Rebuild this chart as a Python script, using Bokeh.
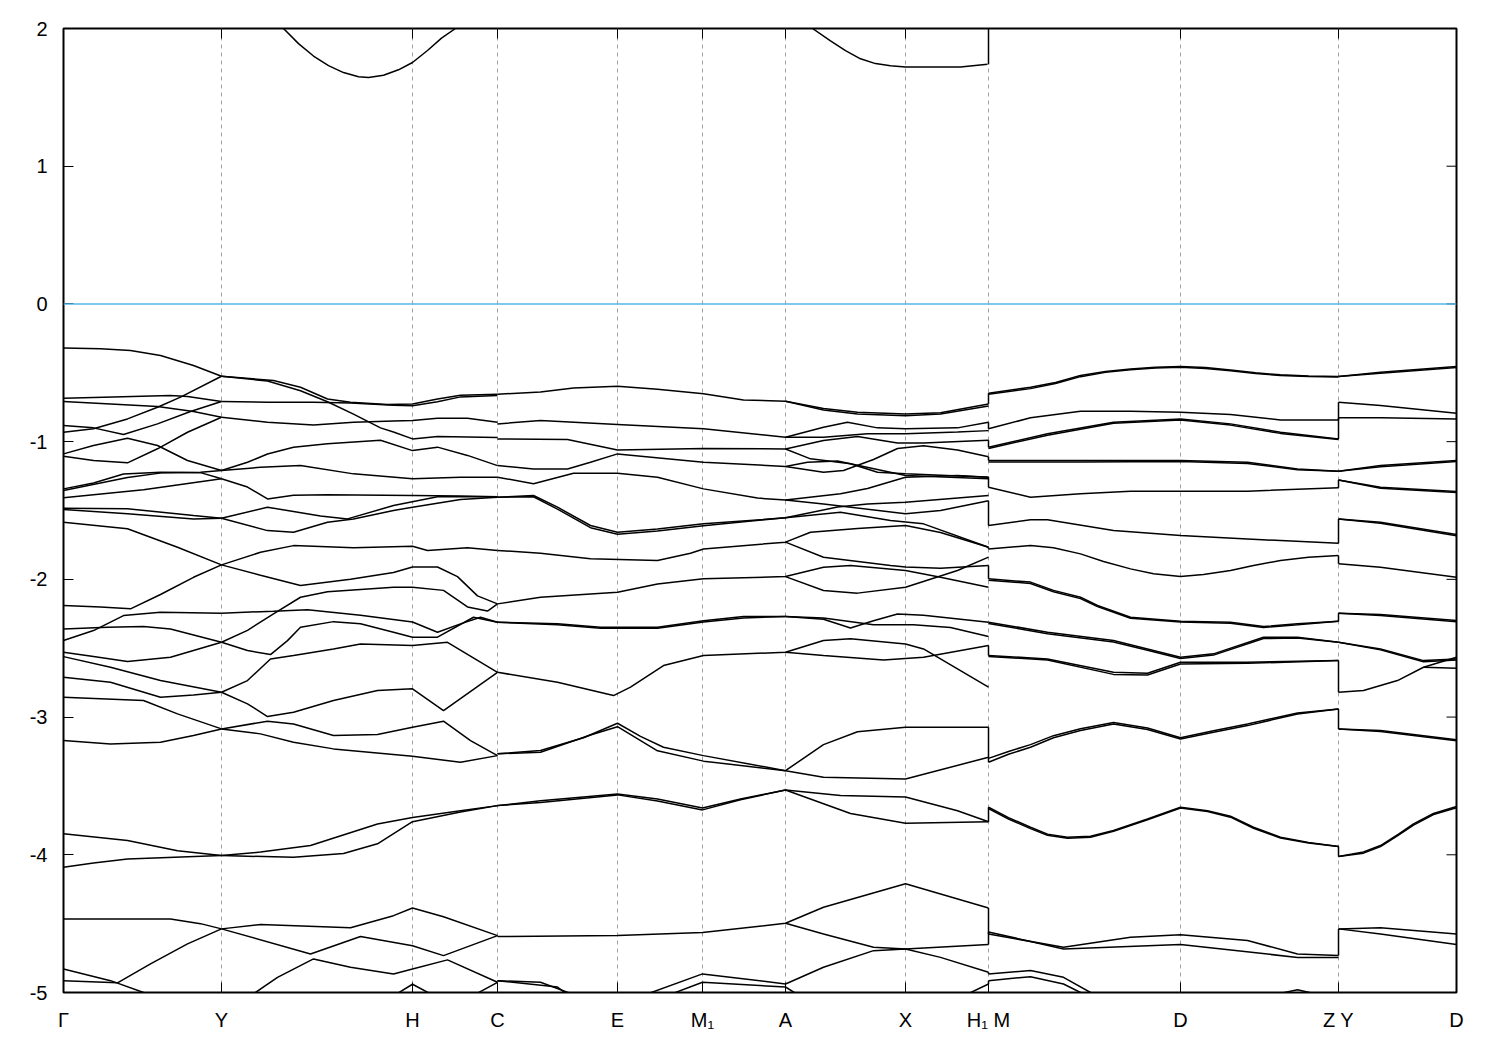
from bokeh.plotting import figure
from bokeh.models import FixedTicker, Span, Range1d
from bokeh.embed import file_html
from bokeh.resources import INLINE

# high-symmetry points along the k-path (path distance, arbitrary units)
K_TICKS = [0, 158, 349, 434, 554, 639, 722, 842, 925, 1117, 1275, 1393]
K_LABELS = ["Γ", "Y", "H", "C", "E", "M₁", "A", "X", "H₁ M", "D", "Z Y", "D"]
E_TICKS = [-5, -4, -3, -2, -1, 0, 1, 2]
E_LABELS = ["-5", "-4", "-3", "-2", "-1", "0", "1", "2"]

# conduction bands (k, E)
COND_BANDS = [
    [(215, 2.04), (220, 2.0), (235, 1.89), (250, 1.80), (265, 1.73), (280, 1.68), (295, 1.65), (305, 1.644),
     (320, 1.66), (335, 1.70), (349, 1.753), (364, 1.84), (378, 1.93), (392, 2.0), (397, 2.04)],
    [(745, 2.04), (749, 2.0), (767, 1.91), (782, 1.84), (797, 1.78), (812, 1.745), (827, 1.73),
     (842, 1.72), (897, 1.72), (924, 1.74)],
]

# Gamma -> Y
BANDS_GY = [
    [(0, -0.32), (37, -0.326), (67, -0.338), (97, -0.375), (130, -0.447), (158, -0.525)],
    [(0, -0.932), (30, -0.907), (64, -0.835), (94, -0.75), (117, -0.677), (158, -0.525)],
    [(0, -0.685), (40, -0.677), (107, -0.665), (124, -0.672), (158, -0.709)],
    [(0, -0.709), (47, -0.726), (94, -0.745), (130, -0.781), (158, -0.823)],
    [(0, -0.883), (30, -0.90), (60, -0.948), (94, -0.871), (127, -0.781), (158, -0.709)],
    [(0, -1.089), (30, -1.028), (64, -0.975), (94, -1.028), (124, -1.137), (158, -1.21)],
    [(0, -1.106), (30, -1.137), (64, -1.154), (94, -1.052), (124, -0.932), (158, -0.823)],
    [(0, -1.343), (30, -1.30), (60, -1.235), (97, -1.222), (137, -1.225), (158, -1.27)],
    [(0, -1.355), (64, -1.26), (100, -1.225), (137, -1.222), (158, -1.21)],
    [(0, -1.408), (80, -1.35), (158, -1.27)],
    [(0, -1.483), (64, -1.488), (130, -1.537), (158, -1.556)],
    [(0, -1.493), (64, -1.524), (130, -1.561), (158, -1.556)],
    [(0, -1.585), (64, -1.633), (114, -1.767), (158, -1.895)],
    [(0, -2.19), (37, -2.20), (67, -2.214), (97, -2.11), (130, -1.985), (158, -1.895)],
    [(0, -2.36), (44, -2.348), (80, -2.343), (107, -2.36), (158, -2.457)],
    [(0, -2.444), (30, -2.372), (60, -2.263), (97, -2.239), (158, -2.246)],
    [(0, -2.529), (30, -2.56), (64, -2.597), (107, -2.566), (158, -2.457)],
    [(0, -2.561), (47, -2.638), (97, -2.735), (158, -2.82)],
    [(0, -2.711), (47, -2.747), (97, -2.856), (130, -2.84), (158, -2.82)],
    [(0, -2.856), (80, -2.88), (114, -2.977), (158, -3.086)],
    [(0, -3.171), (47, -3.195), (97, -3.183), (130, -3.134), (158, -3.086)],
    [(0, -3.848), (64, -3.897), (114, -3.97), (158, -4.006)],
    [(0, -4.091), (30, -4.06), (64, -4.03), (158, -4.006)],
    [(0, -4.466), (37, -4.466), (107, -4.466), (137, -4.50), (158, -4.538)],
    [(0, -4.829), (47, -4.914), (80, -5.0), (95, -5.06)],
    [(0, -4.914), (54, -4.93), (87, -4.792), (124, -4.647), (158, -4.538)],
]

# Y -> H -> C
BANDS_YC = [
    [(158, -0.525), (210, -0.556), (237, -0.605), (264, -0.69), (287, -0.714), (324, -0.73), (349, -0.726),
     (374, -0.69), (397, -0.663), (434, -0.655)],
    [(158, -0.525), (204, -0.56), (237, -0.63), (264, -0.71), (290, -0.80), (317, -0.90), (330, -0.93),
     (349, -0.98), (374, -0.963), (434, -0.97)],
    [(158, -0.709), (204, -0.714), (250, -0.714), (287, -0.72), (330, -0.735), (349, -0.74), (374, -0.71),
     (397, -0.675), (434, -0.665)],
    [(158, -0.823), (204, -0.86), (250, -0.88), (290, -0.86), (330, -0.85), (349, -0.847), (374, -0.83),
     (404, -0.83), (434, -0.859)],
    [(158, -1.21), (184, -1.15), (204, -1.09), (230, -1.04), (264, -1.016), (317, -0.99), (349, -1.065),
     (374, -1.04), (404, -1.10), (434, -1.174)],
    [(158, -1.21), (197, -1.186), (237, -1.174), (290, -1.234), (349, -1.27), (397, -1.258), (434, -1.258)],
    [(158, -1.27), (184, -1.33), (204, -1.416), (230, -1.39), (264, -1.385), (349, -1.391), (397, -1.395),
     (434, -1.40)],
    [(158, -1.556), (204, -1.476), (257, -1.54), (284, -1.561), (330, -1.464), (374, -1.40), (434, -1.40)],
    [(158, -1.556), (204, -1.646), (230, -1.658), (264, -1.585), (290, -1.561), (330, -1.50), (349, -1.476),
     (397, -1.42), (434, -1.404)],
    [(158, -1.895), (197, -1.803), (230, -1.755), (290, -1.77), (349, -1.76), (364, -1.79), (404, -1.77),
     (434, -1.79)],
    [(158, -1.895), (197, -1.97), (237, -2.045), (287, -2.0), (330, -1.95), (349, -1.91), (374, -1.91),
     (394, -1.98), (414, -2.12), (434, -2.178)],
    [(158, -2.457), (184, -2.37), (210, -2.25), (237, -2.13), (264, -2.09), (330, -2.057), (349, -2.057),
     (380, -2.08), (404, -2.20), (424, -2.23), (434, -2.178)],
    [(158, -2.246), (210, -2.231), (244, -2.22), (297, -2.26), (349, -2.31), (374, -2.384), (397, -2.323),
     (417, -2.275), (434, -2.311)],
    [(158, -2.457), (184, -2.517), (207, -2.546), (224, -2.445), (237, -2.348), (270, -2.307), (297, -2.323),
     (330, -2.384), (349, -2.42), (374, -2.42), (410, -2.275), (434, -2.311)],
    [(158, -2.82), (184, -2.735), (207, -2.578), (230, -2.553), (270, -2.505), (297, -2.469), (349, -2.481),
     (384, -2.457), (434, -2.675)],
    [(158, -2.82), (184, -2.904), (204, -2.996), (230, -2.965), (270, -2.88), (314, -2.807), (349, -2.795),
     (380, -2.953), (434, -2.675)],
    [(158, -3.086), (204, -3.03), (230, -3.05), (270, -3.134), (314, -3.127), (349, -3.074), (380, -3.03),
     (407, -3.171), (434, -3.28)],
    [(158, -3.086), (197, -3.122), (230, -3.183), (270, -3.231), (349, -3.285), (397, -3.328), (434, -3.28)],
    [(158, -4.006), (230, -4.018), (280, -3.99), (314, -3.92), (349, -3.76), (397, -3.69), (434, -3.643)],
    [(158, -4.006), (197, -3.98), (247, -3.933), (314, -3.776), (349, -3.73), (397, -3.68), (434, -3.643)],
    [(158, -4.538), (197, -4.507), (287, -4.53), (330, -4.442), (349, -4.386), (380, -4.45), (434, -4.587)],
    [(158, -4.538), (247, -4.72), (297, -4.593), (349, -4.66), (380, -4.732), (434, -4.587)],
    [(180, -5.06), (214, -4.89), (250, -4.756), (287, -4.817), (330, -4.865), (349, -4.829), (384, -4.763),
     (434, -4.926)],
    [(322, -5.06), (349, -4.94), (380, -5.06)],
    [(400, -5.06), (434, -4.926)],
]

# C -> E -> M1 -> A -> X -> H1
BANDS_CH = [
    [(434, -0.655), (477, -0.64), (510, -0.61), (554, -0.598), (594, -0.62), (640, -0.653), (680, -0.697),
     (722, -0.706), (760, -0.76), (794, -0.786), (842, -0.80), (877, -0.79), (925, -0.726)],
    [(722, -0.706), (760, -0.77), (794, -0.80), (842, -0.812), (877, -0.80), (925, -0.742)],
    [(434, -0.871), (477, -0.847), (554, -0.876), (640, -0.907), (722, -0.968), (760, -0.895), (784, -0.859),
     (814, -0.90), (842, -0.907), (894, -0.90), (925, -0.86)],
    [(722, -0.968), (760, -0.968), (804, -0.943), (842, -0.943), (894, -0.93), (925, -0.92)],
    [(434, -0.98), (504, -0.985), (554, -1.06), (640, -1.05), (722, -1.053), (747, -1.125), (787, -1.16),
     (814, -1.222), (842, -1.234), (925, -1.258)],
    [(722, -1.053), (760, -0.992), (794, -0.963), (834, -1.01), (860, -1.01), (925, -0.99)],
    [(434, -1.174), (470, -1.198), (504, -1.198), (527, -1.15), (554, -1.089), (640, -1.15), (722, -1.18),
     (744, -1.15), (774, -1.14), (787, -1.16), (842, -1.246), (925, -1.27)],
    [(722, -1.18), (760, -1.222), (780, -1.21), (810, -1.13), (834, -1.05), (860, -1.03), (894, -1.06),
     (925, -1.11)],
    [(434, -1.258), (470, -1.306), (510, -1.229), (554, -1.229), (594, -1.258), (640, -1.343), (694, -1.41),
     (722, -1.423), (777, -1.379), (804, -1.34), (842, -1.258), (894, -1.245), (925, -1.258)],
    [(722, -1.423), (760, -1.452), (842, -1.524), (877, -1.50), (925, -1.43)],
    [(434, -1.404), (470, -1.391), (494, -1.476), (527, -1.609), (554, -1.658), (594, -1.634), (640, -1.597),
     (722, -1.553), (774, -1.475), (804, -1.452), (842, -1.44), (925, -1.391)],
    [(434, -1.404), (470, -1.40), (494, -1.49), (527, -1.625), (554, -1.672), (594, -1.648), (640, -1.61),
     (722, -1.553)],
    [(722, -1.553), (777, -1.513), (827, -1.573), (860, -1.597), (925, -1.767)],
    [(434, -1.79), (477, -1.81), (527, -1.851), (594, -1.863), (627, -1.81), (640, -1.779), (722, -1.73),
     (747, -1.658), (794, -1.63), (842, -1.609), (877, -1.66), (925, -1.767)],
    [(722, -1.73), (760, -1.839), (827, -1.90), (842, -1.91), (877, -1.92), (925, -1.90)],
    [(434, -2.178), (477, -2.13), (554, -2.094), (594, -2.033), (640, -1.996), (722, -1.98), (760, -1.912),
     (787, -1.90), (842, -1.936), (877, -1.985), (925, -2.057)],
    [(722, -1.98), (760, -2.081), (794, -2.10), (842, -2.057), (894, -1.936), (925, -1.839)],
    [(434, -2.311), (494, -2.323), (537, -2.348), (594, -2.348), (640, -2.30), (680, -2.27), (722, -2.27),
     (760, -2.29), (787, -2.353), (810, -2.30), (834, -2.251), (860, -2.26), (925, -2.311)],
    [(434, -2.311), (494, -2.33), (537, -2.355), (594, -2.355), (640, -2.31), (680, -2.28), (722, -2.27)],
    [(722, -2.27), (760, -2.28), (810, -2.33), (850, -2.33), (887, -2.35), (925, -2.415)],
    [(434, -2.675), (494, -2.747), (550, -2.844), (567, -2.783), (600, -2.626), (640, -2.553), (722, -2.529),
     (760, -2.444), (787, -2.432), (842, -2.469), (860, -2.505), (925, -2.783)],
    [(722, -2.529), (760, -2.553), (820, -2.585), (860, -2.566), (925, -2.481)],
    [(434, -3.267), (477, -3.243), (520, -3.15), (554, -3.045), (577, -3.14), (600, -3.219), (640, -3.28),
     (722, -3.389), (760, -3.2), (794, -3.107), (842, -3.074), (925, -3.074)],
    [(434, -3.267), (477, -3.255), (527, -3.13), (554, -3.07), (594, -3.245), (640, -3.32), (722, -3.389)],
    [(722, -3.389), (760, -3.437), (842, -3.449), (925, -3.292)],
    [(434, -3.643), (477, -3.607), (554, -3.558), (594, -3.595), (639, -3.66), (677, -3.595), (722, -3.53),
     (777, -3.57), (842, -3.58), (894, -3.68), (925, -3.76)],
    [(434, -3.643), (477, -3.62), (554, -3.565), (594, -3.61), (639, -3.674), (677, -3.60), (722, -3.53)],
    [(722, -3.53), (787, -3.70), (842, -3.771), (925, -3.76)],
    [(434, -4.594), (554, -4.587), (639, -4.565), (722, -4.497), (760, -4.381), (842, -4.211), (925, -4.386)],
    [(722, -4.497), (760, -4.575), (810, -4.672), (842, -4.684), (925, -4.652)],
    [(722, -4.938), (760, -4.817), (810, -4.696), (842, -4.684), (877, -4.745), (925, -4.853)],
    [(434, -4.914), (477, -4.926), (527, -5.06)],
    [(434, -4.914), (494, -4.96), (512, -5.06)],
    [(565, -5.06), (639, -4.865), (722, -4.938)],
    [(590, -5.06), (639, -4.926), (722, -4.96), (744, -5.06)],
    [(890, -5.06), (925, -4.938)],
]

# M -> D -> Z
BANDS_MZ = [
    [(925, -0.648), (967, -0.605), (992, -0.57), (1017, -0.52), (1042, -0.49), (1067, -0.472), (1092, -0.46),
     (1117, -0.455), (1142, -0.462), (1167, -0.479), (1192, -0.50), (1217, -0.515), (1245, -0.523), (1275, -0.527)],
    [(925, -0.655), (967, -0.615), (992, -0.578), (1017, -0.528), (1042, -0.497), (1067, -0.478), (1092, -0.466),
     (1117, -0.46), (1142, -0.468), (1167, -0.485), (1192, -0.505), (1217, -0.52), (1245, -0.527), (1275, -0.53)],
    [(925, -0.907), (967, -0.827), (1017, -0.779), (1067, -0.779), (1117, -0.786), (1167, -0.803),
     (1217, -0.842), (1275, -0.842)],
    [(925, -1.04), (984, -0.943), (1050, -0.859), (1117, -0.835), (1167, -0.871), (1217, -0.932), (1275, -0.98)],
    [(925, -1.05), (984, -0.953), (1050, -0.867), (1117, -0.842), (1167, -0.88), (1217, -0.94), (1275, -0.985)],
    [(925, -1.137), (1017, -1.137), (1117, -1.137), (1184, -1.15), (1234, -1.198), (1275, -1.215)],
    [(925, -1.147), (1017, -1.147), (1117, -1.145), (1184, -1.158), (1234, -1.205), (1275, -1.215)],
    [(925, -1.331), (967, -1.404), (1017, -1.379), (1067, -1.36), (1117, -1.36), (1184, -1.36), (1275, -1.335)],
    [(925, -1.609), (967, -1.568), (984, -1.568), (1050, -1.646), (1117, -1.682), (1184, -1.707), (1275, -1.738)],
    [(925, -1.779), (967, -1.755), (990, -1.77), (1017, -1.815), (1040, -1.87), (1067, -1.924), (1090, -1.96),
     (1117, -1.98), (1140, -1.965), (1167, -1.936), (1190, -1.90), (1217, -1.863), (1245, -1.84), (1275, -1.827)],
    [(925, -1.996), (967, -2.02), (990, -2.08), (1017, -2.13), (1034, -2.19), (1067, -2.275), (1117, -2.304),
     (1167, -2.311), (1200, -2.343), (1234, -2.323), (1275, -2.304)],
    [(925, -2.006), (967, -2.03), (990, -2.09), (1017, -2.14), (1034, -2.198), (1067, -2.282), (1117, -2.31),
     (1167, -2.318), (1200, -2.35), (1234, -2.33), (1275, -2.304)],
    [(925, -2.311), (984, -2.384), (1050, -2.444), (1084, -2.505), (1117, -2.566), (1150, -2.541),
     (1200, -2.42), (1234, -2.42), (1275, -2.457)],
    [(925, -2.32), (984, -2.395), (1050, -2.455), (1084, -2.515), (1117, -2.575), (1150, -2.55),
     (1200, -2.43), (1234, -2.425), (1275, -2.457)],
    [(925, -2.553), (984, -2.578), (1050, -2.675), (1084, -2.682), (1117, -2.602), (1184, -2.602), (1275, -2.59)],
    [(925, -2.56), (984, -2.585), (1050, -2.69), (1084, -2.695), (1117, -2.615), (1184, -2.61), (1275, -2.59)],
    [(925, -3.328), (945, -3.27), (967, -3.219), (990, -3.15), (1017, -3.098), (1050, -3.05), (1084, -3.09),
     (1117, -3.159), (1150, -3.11), (1184, -3.062), (1234, -2.977), (1275, -2.941)],
    [(925, -3.30), (945, -3.25), (967, -3.20), (990, -3.135), (1017, -3.085), (1050, -3.04), (1084, -3.08),
     (1117, -3.15), (1150, -3.10), (1184, -3.05), (1234, -2.97), (1275, -2.941)],
    [(925, -3.655), (945, -3.73), (967, -3.80), (984, -3.85), (1004, -3.873), (1027, -3.865), (1050, -3.824),
     (1084, -3.74), (1117, -3.655), (1144, -3.68), (1167, -3.72), (1190, -3.80), (1217, -3.873), (1245, -3.91),
     (1275, -3.94)],
    [(925, -3.665), (945, -3.74), (967, -3.81), (984, -3.858), (1004, -3.88), (1027, -3.872), (1050, -3.83),
     (1084, -3.745), (1117, -3.66), (1144, -3.686), (1167, -3.727), (1190, -3.807), (1217, -3.878),
     (1245, -3.915), (1275, -3.94)],
    [(925, -4.575), (1000, -4.672), (1067, -4.599), (1117, -4.58), (1184, -4.623), (1234, -4.72), (1275, -4.732)],
    [(925, -4.56), (1000, -4.684), (1117, -4.652), (1234, -4.745), (1275, -4.745)],
    [(925, -4.865), (967, -4.841), (1000, -4.89), (1027, -5.0), (1035, -5.06)],
    [(925, -4.914), (967, -4.885), (1000, -4.938), (1017, -5.0), (1025, -5.06)],
    [(1195, -5.04), (1234, -4.98), (1270, -5.04)],
]

# Y -> D
BANDS_YD = [
    [(1275, -0.527), (1317, -0.496), (1393, -0.455)],
    [(1275, -0.527), (1317, -0.503), (1393, -0.462)],
    [(1275, -0.714), (1317, -0.738), (1393, -0.793)],
    [(1275, -0.827), (1317, -0.827), (1393, -0.835)],
    [(1275, -1.215), (1317, -1.174), (1393, -1.137)],
    [(1275, -1.215), (1317, -1.182), (1393, -1.145)],
    [(1275, -1.278), (1317, -1.331), (1393, -1.362)],
    [(1275, -1.278), (1317, -1.338), (1393, -1.37)],
    [(1275, -1.561), (1317, -1.585), (1393, -1.675)],
    [(1275, -1.561), (1317, -1.592), (1393, -1.683)],
    [(1275, -1.887), (1317, -1.912), (1393, -1.985)],
    [(1275, -2.246), (1317, -2.255), (1393, -2.299)],
    [(1275, -2.246), (1317, -2.262), (1393, -2.307)],
    [(1275, -2.457), (1317, -2.505), (1360, -2.59), (1393, -2.578)],
    [(1275, -2.457), (1317, -2.512), (1360, -2.598), (1393, -2.585)],
    [(1275, -2.82), (1300, -2.807), (1334, -2.735), (1360, -2.638), (1393, -2.566)],
    [(1360, -2.638), (1393, -2.645)],
    [(1275, -3.086), (1317, -3.098), (1393, -3.165)],
    [(1275, -3.086), (1317, -3.105), (1393, -3.172)],
    [(1275, -4.013), (1300, -3.98), (1317, -3.933), (1335, -3.85), (1350, -3.776), (1370, -3.70), (1393, -3.65)],
    [(1275, -4.013), (1300, -3.988), (1317, -3.941), (1335, -3.858), (1350, -3.785), (1370, -3.708),
     (1393, -3.658)],
    [(1275, -4.538), (1317, -4.53), (1393, -4.575)],
    [(1275, -4.538), (1317, -4.575), (1393, -4.652)],
]

# discontinuities of the path: (energy before, energy after)
JUMPS_H1_M = [(1.74, 2.5), (-0.726, -0.648), (-0.86, -0.907), (-0.99, -1.04), (-1.11, -1.137),
              (-1.258, -1.331), (-1.43, -1.609), (-1.767, -1.779), (-1.90, -1.996), (-2.311, -2.311),
              (-2.481, -2.553), (-3.074, -3.328), (-3.76, -3.655), (-4.386, -4.575), (-4.652, -4.56),
              (-4.853, -4.865), (-4.938, -4.914)]
JUMPS_Z_Y = [(-0.527, -0.527), (-0.842, -0.714), (-0.98, -0.827), (-1.215, -1.215), (-1.335, -1.278),
             (-1.738, -1.561), (-1.827, -1.887), (-2.304, -2.246), (-2.457, -2.457), (-2.59, -2.82),
             (-2.941, -3.086), (-3.94, -4.013), (-4.732, -4.538)]

FONT = "Liberation Sans"
FRAME_W, FRAME_H = 1393, 964
X0, X1, Y0, Y1 = 0, 1393, -5, 2

p = figure(width=63 + FRAME_W + 30, height=28 + FRAME_H + 50,
           x_range=Range1d(X0, X1), y_range=Range1d(Y0, Y1),
           output_backend="svg", toolbar_location=None,
           min_border_left=63, min_border_right=30, min_border_top=28, min_border_bottom=50)
p.frame_width = FRAME_W
p.frame_height = FRAME_H
p.background_fill_color = "white"
p.outline_line_color = "black"
p.outline_line_width = 2

xt = FixedTicker(ticks=K_TICKS)
yt = FixedTicker(ticks=E_TICKS)
p.xaxis.ticker = xt
p.yaxis.ticker = yt
p.xaxis.major_label_overrides = {k: lab for k, lab in zip(K_TICKS, K_LABELS)}
p.yaxis.major_label_overrides = {e: lab for e, lab in zip(E_TICKS, E_LABELS)}
for ax in (p.xaxis[0], p.yaxis[0]):
    ax.axis_line_color = None
    ax.major_tick_in = 10
    ax.major_tick_out = 0
    ax.major_tick_line_color = "black"
    ax.major_tick_line_width = 1
    ax.minor_tick_line_color = None
    ax.major_label_text_font = FONT
    ax.major_label_text_font_size = "20px"
    ax.major_label_text_color = "black"
p.xaxis.major_label_standoff = 16
p.yaxis.major_label_standoff = 16

# mirrored tick marks on the top and right edges (length 10 px converted to data units)
tick_dy = 10 * (Y1 - Y0) / FRAME_H
tick_dx = 10 * (X1 - X0) / FRAME_W
p.segment(x0=K_TICKS, y0=[Y1] * len(K_TICKS), x1=K_TICKS, y1=[Y1 - tick_dy] * len(K_TICKS),
          line_color="black", line_width=1)
p.segment(x0=[X1] * len(E_TICKS), y0=E_TICKS, x1=[X1 - tick_dx] * len(E_TICKS), y1=E_TICKS,
          line_color="black", line_width=1)

# grid: dashed vertical lines at high-symmetry points
p.xgrid.ticker = xt
p.xgrid.grid_line_color = "#a0a0a0"
p.xgrid.grid_line_dash = "4 4"
p.xgrid.grid_line_width = 1
p.ygrid.grid_line_color = None

# Fermi level
p.add_layout(Span(location=0, dimension="width", line_color="#56b4e9", line_width=1.5))

all_bands = COND_BANDS + BANDS_GY + BANDS_YC + BANDS_CH + BANDS_MZ + BANDS_YD
xs = [[k for k, e in b] for b in all_bands]
ys = [[e for k, e in b] for b in all_bands]
p.multi_line(xs, ys, line_color="black", line_width=1.5)

kh = K_TICKS[8]
kz = K_TICKS[10]
p.segment(x0=[kh] * len(JUMPS_H1_M), y0=[a for a, b in JUMPS_H1_M],
          x1=[kh] * len(JUMPS_H1_M), y1=[b for a, b in JUMPS_H1_M], line_color="black", line_width=1.5)
p.segment(x0=[kz] * len(JUMPS_Z_Y), y0=[a for a, b in JUMPS_Z_Y],
          x1=[kz] * len(JUMPS_Z_Y), y1=[b for a, b in JUMPS_Z_Y], line_color="black", line_width=1.5)

open("out.html", "w").write(file_html(p, INLINE))
